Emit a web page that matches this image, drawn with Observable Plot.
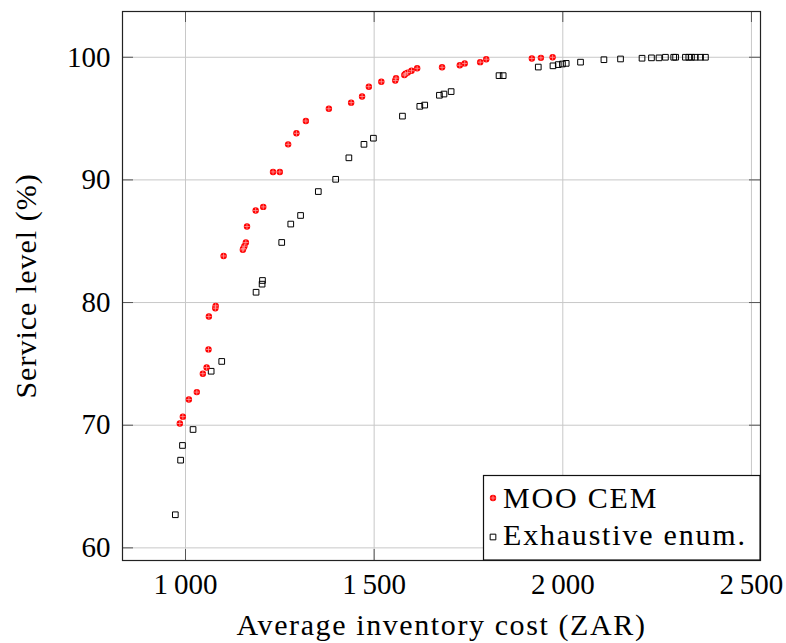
<!DOCTYPE html>
<html><head><meta charset="utf-8">
<script src="https://cdn.jsdelivr.net/npm/d3@7"></script>
<script src="https://cdn.jsdelivr.net/npm/@observablehq/plot@0.6"></script>
<style>body{margin:0;background:#fff} svg text{font-family:"Liberation Serif","DejaVu Serif",serif;}</style>
</head><body><div id="chart"></div>
<script>
// MOO CEM series
const mooCost = [985, 993, 1009, 1030, 1046, 1056, 1061, 1062, 1079, 1080, 1101, 1152, 1153, 1156, 1160, 1163, 1186, 1206, 1232, 1250, 1272, 1294, 1319, 1380, 1439, 1468, 1486, 1519, 1556, 1558, 1580, 1583, 1589, 1599, 1614, 1680, 1727, 1740, 1781, 1797, 1918, 1942, 1973];
const mooService = [70.14, 70.7, 72.1, 72.7, 74.2, 74.7, 76.18, 78.86, 79.54, 79.73, 83.8, 84.3, 84.4, 84.6, 84.9, 86.2, 87.5, 87.8, 90.65, 90.65, 92.9, 93.8, 94.8, 95.8, 96.3, 96.8, 97.6, 98.0, 98.1, 98.3, 98.55, 98.65, 98.75, 98.9, 99.1, 99.18, 99.35, 99.5, 99.6, 99.84, 99.9, 99.95, 100.0];
// Exhaustive enumeration series
const exhCost = [973, 987, 992, 1020, 1068, 1096, 1187, 1203, 1204, 1255, 1279, 1305, 1352, 1398, 1433, 1473, 1498, 1575, 1621, 1634, 1673, 1685, 1704, 1831, 1842, 1935, 1974, 1988, 1999, 2009, 2047, 2109, 2153, 2210, 2235, 2255, 2272, 2294, 2299, 2325, 2334, 2341, 2351, 2365, 2378];
const exhService = [62.7, 67.15, 68.35, 69.65, 74.4, 75.2, 80.84, 81.5, 81.8, 84.9, 86.4, 87.1, 89.05, 90.05, 91.8, 92.9, 93.4, 95.2, 96.0, 96.1, 96.9, 97.0, 97.2, 98.5, 98.5, 99.2, 99.3, 99.4, 99.45, 99.5, 99.6, 99.8, 99.86, 99.92, 99.95, 99.95, 100.0, 100.0, 100.0, 100.0, 100.0, 100.0, 100.0, 100.0, 100.0];

const xTicks = [1000, 1500, 2000, 2500];
const yTicks = [60, 70, 80, 90, 100];
const seriesNames = ["MOO CEM", "Exhaustive enum."];
const xLabel = "Average inventory cost (ZAR)";
const yLabel = "Service level (%)";

const moo = mooCost.map((c, i) => ({cost: c, service: mooService[i]}));
const exh = exhCost.map((c, i) => ({cost: c, service: exhService[i]}));

const fmt = d3.formatLocale({decimal: ".", thousands: "\u2009", grouping: [3], currency: ["", ""]}).format(",");

const W = 786, H = 643, ML = 122, MR = 26, MT = 11, MB = 83;
const FW = W - ML - MR, FH = H - MT - MB, TL = 11;
const FONT = "'Liberation Serif', 'DejaVu Serif', serif";

const plot = Plot.plot({
  width: W, height: H,
  marginLeft: ML, marginRight: MR, marginTop: MT, marginBottom: MB,
  style: {fontFamily: FONT, fontSize: "29px", background: "#fff", color: "#000"},
  x: {domain: [833, 2524]},
  y: {domain: [58.97, 103.73]},
  marks: [
    Plot.gridX(xTicks, {stroke: "#c8c8c8", strokeOpacity: 1, strokeWidth: 1}),
    Plot.gridY(yTicks, {stroke: "#c8c8c8", strokeOpacity: 1, strokeWidth: 1}),
    Plot.tickX(xTicks, {x: d => d, insetTop: FH - TL, stroke: "#555", strokeWidth: 1}),
    Plot.tickX(xTicks, {x: d => d, insetBottom: FH - TL, stroke: "#555", strokeWidth: 1}),
    Plot.tickY(yTicks, {y: d => d, insetRight: FW - TL, stroke: "#555", strokeWidth: 1}),
    Plot.tickY(yTicks, {y: d => d, insetLeft: FW - TL, stroke: "#555", strokeWidth: 1}),
    Plot.axisX(xTicks, {tickSize: 0, tickPadding: 13, tickFormat: fmt, label: null, fontSize: 29}),
    Plot.axisY(yTicks, {tickSize: 0, tickPadding: 12, label: null, fontSize: 29}),
    Plot.dot(exh, {x: "cost", y: "service", symbol: "square", r: 3.2, stroke: "#000", fill: "none", strokeWidth: 1}),
    Plot.dot(moo, {x: "cost", y: "service", symbol: "circle", r: 3.2, fill: "#ff0000", stroke: "none"}),
    Plot.dot(moo, {x: "cost", y: "service", symbol: "plus", r: 1.8, stroke: "#ffa0a0", strokeWidth: 0.8}),
    Plot.frame({stroke: "#222", strokeWidth: 1.2}),
    Plot.text([xLabel], {frameAnchor: "bottom", textAnchor: "middle", lineAnchor: "middle", dy: 65, fontSize: 30, text: d => d}),
    Plot.text([yLabel], {frameAnchor: "left", textAnchor: "middle", lineAnchor: "middle", dx: -96, rotate: -90, fontSize: 30, text: d => d})
  ]
});

const svg = d3.select(plot);
const labelGroups = svg.selectAll('g[aria-label="text"]').nodes();
d3.select(labelGroups[0]).selectAll("text").attr("letter-spacing", "1.6px");
d3.select(labelGroups[1]).selectAll("text").attr("letter-spacing", "1px");

// legend
const lg = svg.append("g").attr("font-family", FONT).attr("font-size", 30)
  .attr("letter-spacing", "1.8px").attr("text-anchor", "start");
lg.append("rect").attr("x", 483.5).attr("y", 475.5).attr("width", W - MR - 483.5).attr("height", H - MB - 475.5)
  .attr("fill", "#fff").attr("stroke", "#111").attr("stroke-width", 1.2);
const circ = d3.symbol(d3.symbolCircle, Math.PI * 3.2 * 3.2)();
const plus = d3.symbol(d3.symbolPlus, Math.PI * 1.8 * 1.8)();
const sq = d3.symbol(d3.symbolSquare, Math.PI * 3.2 * 3.2)();
lg.append("path").attr("d", circ).attr("transform", "translate(493,498)").attr("fill", "#ff0000");
lg.append("path").attr("d", plus).attr("transform", "translate(493,498)").attr("fill", "none").attr("stroke", "#ffa0a0").attr("stroke-width", 0.8);
lg.append("path").attr("d", sq).attr("transform", "translate(493,537)").attr("fill", "none").attr("stroke", "#000").attr("stroke-width", 1);
lg.append("text").attr("x", 503).attr("y", 508).text(seriesNames[0]);
lg.append("text").attr("x", 503).attr("y", 545).text(seriesNames[1]);

document.getElementById("chart").appendChild(plot);
</script>
</body></html>
